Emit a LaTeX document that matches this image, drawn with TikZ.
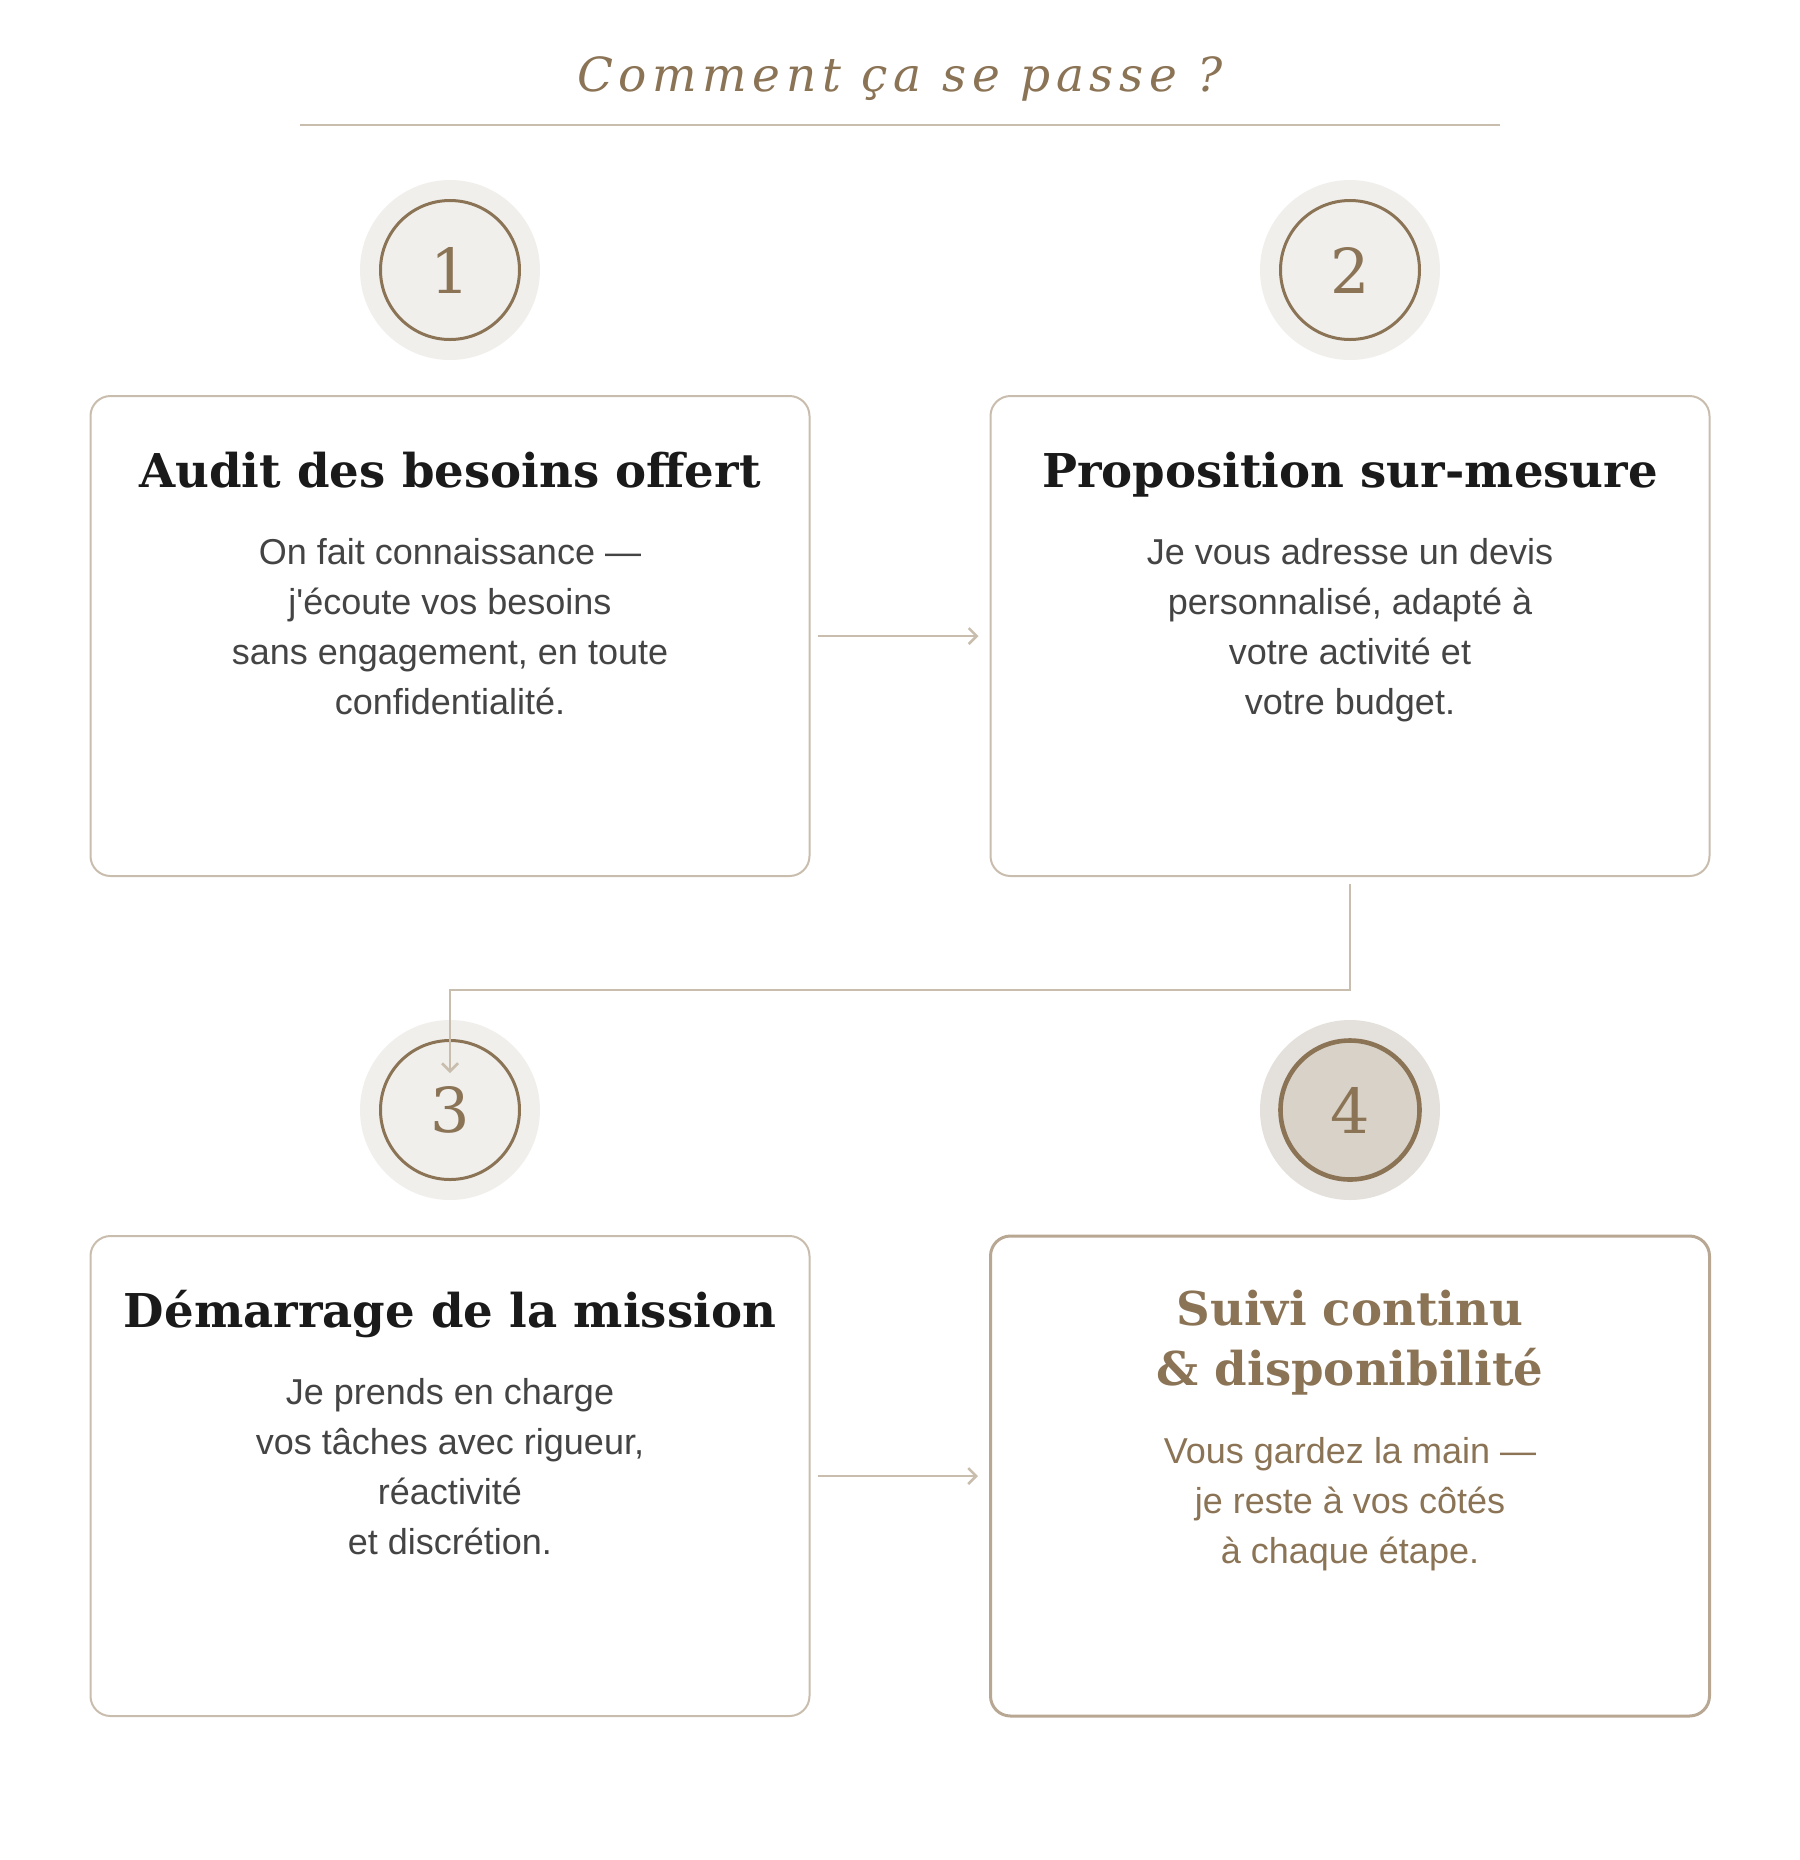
\documentclass[tikz,border=0pt]{standalone}
\usepackage{fontspec}
\usetikzlibrary{arrows.meta}
\setmainfont{Liberation Sans}
\newfontfamily\headfont{DejaVu Serif}
\newfontfamily\titlefont{DejaVu Serif}[LetterSpace=12]
\newfontfamily\numfont{DejaVu Serif}
\definecolor{bronze}{HTML}{8B7355}
\definecolor{halogrey}{HTML}{F0EFEC}
\definecolor{halodark}{HTML}{E4E0DB}
\definecolor{ringfill}{HTML}{D9D2C8}
\definecolor{edgegrey}{HTML}{C9BDAE}
\definecolor{edgedark}{HTML}{B8A893}
\definecolor{inkdark}{HTML}{1A1A1A}
\definecolor{bodygrey}{HTML}{444444}
\begin{document}
\begin{tikzpicture}[
    x=0.5pt, y=-0.5pt,
    >={Straight Barb[length=4pt,width=8pt]},
    halo/.style={
        circle,
        fill=halogrey,
        minimum size=90pt,
        inner sep=0pt
    },
    ring/.style={
        circle,
        draw=bronze,
        line width=1.5pt,
        fill=halogrey,
        minimum size=69.5pt,
        inner sep=0pt,
        text=bronze,
        font=\numfont\fontsize{31}{31}\selectfont
    },
    card/.style={
        draw=edgegrey,
        line width=1pt,
        rounded corners=10pt,
        minimum width=359.5pt,
        minimum height=240pt
    },
    head/.style={
        font=\headfont\bfseries\fontsize{23.3}{30}\selectfont,
        text=inkdark,
        align=center,
        inner sep=0pt,
        anchor=base
    },
    body/.style={
        font=\fontsize{18}{25}\selectfont,
        text=bodygrey,
        align=center,
        inner sep=0pt,
        anchor=base
    },
    link/.style={
        draw=edgegrey,
        line width=1.25pt
    }
]
\useasboundingbox (0,0) rectangle (1800,1860);

\node[font=\titlefont\itshape\fontsize{23.5}{28}\selectfont, text=bronze, anchor=base] (title) at (900,91) {Comment ça se passe ?};
\coordinate (rulel) at (300,125);
\coordinate (ruler) at (1500,125);
\draw[draw=edgegrey, line width=1pt] (rulel) -- (ruler);

\node[halo] (h1) at (450,270) {};
\node[halo] (h2) at (1350,270) {};
\node[halo] (h3) at (450,1110) {};
\node[halo, fill=halodark] (h4) at (1350,1110) {};

\node[ring] (n1) at (h1) {1};
\node[ring] (n2) at (h2) {2};
\node[ring] (n3) at (h3) {3};
\node[ring, fill=ringfill, line width=2.3pt] (n4) at (h4) {4};

\node[card] (c1) at (450,636) {};
\node[card] (c2) at (1350,636) {};
\node[card] (c3) at (450,1476) {};
\node[card, draw=edgedark, line width=1.5pt] (c4) at (1350,1476) {};

\node[head] (t1) at (450,487) {Audit des besoins offert};
\node[body] (d1) at (450,714)
    {On fait connaissance —\\j\textquotesingle écoute vos besoins\\sans engagement, en toute\\confidentialité.};

\node[head] (t2) at (1350,487) {Proposition sur-mesure};
\node[body] (d2) at (1350,714)
    {Je vous adresse un devis\\personnalisé, adapté à\\votre activité et\\votre budget.};

\node[head] (t3) at (450,1327) {Démarrage de la mission};
\node[body] (d3) at (450,1554)
    {Je prends en charge\\vos tâches avec rigueur,\\réactivité\\et discrétion.};

\node[head, text=bronze] (t4) at (1350,1385) {Suivi continu\\\& disponibilité};
\node[body, text=bronze] (d4) at (1350,1563)
    {Vous gardez la main —\\je reste à vos côtés\\à chaque étape.};

\draw[link, ->, shorten <=3.5pt, shorten >=5.5pt] (c1) -- (c2);
\draw[link, ->, shorten <=3.5pt, shorten >=5.5pt] (c3) -- (c4);
\draw[link, ->] ([yshift=-3.5pt]c2.south) -- ++(0,106) -| ([yshift=18.5pt]n3.center);

\end{tikzpicture}
\end{document}
